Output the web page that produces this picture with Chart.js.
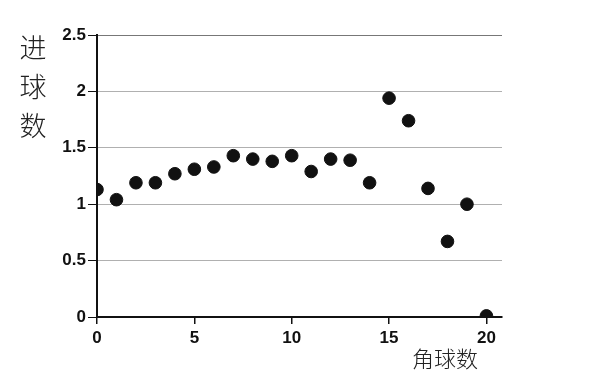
<!DOCTYPE html>
<html>
<head>
<meta charset="utf-8">
<script src="https://cdn.jsdelivr.net/npm/chart.js@4.4.1/dist/chart.umd.min.js"></script>
<style>
  html, body { margin: 0; padding: 0; background: #fff; }
  #wrap { position: relative; width: 607px; height: 385px; }
  #c { position: absolute; left: 0; top: 0; }
  .ylab { position: absolute; left: 17px; top: 27px; width: 32px; font: 300 27px "Noto Sans CJK SC"; line-height: 39px; color: #222; text-align: center; }
  .xlab { position: absolute; left: 412px; top: 341px; font: 300 22px "Noto Sans CJK SC"; color: #222; }
</style>
</head>
<body>
<div id="wrap">
  <canvas id="c" width="607" height="385"></canvas>
  <div class="ylab">进<br>球<br>数</div>
  <div class="xlab">角球数</div>
</div>
<script>
// 角球数 vs 进球数
const corners = [0, 1, 2, 3, 4, 5, 6, 7, 8, 9, 10, 11, 12, 13, 14, 15, 16, 17, 18, 19, 20];
const goals = [1.13, 1.04, 1.19, 1.19, 1.27, 1.31, 1.33, 1.43, 1.40, 1.38, 1.43, 1.29, 1.40, 1.39, 1.19, 1.94, 1.74, 1.14, 0.67, 1.00, 0.01];
const xTicks = [0, 5, 10, 15, 20];
const yTicks = [0, 0.5, 1, 1.5, 2, 2.5];

const puntos = corners.map((x, i) => ({ x: x, y: goals[i] }));
const fuente = { family: '"Liberation Sans", Arial, sans-serif', size: 17, weight: 'bold' };

new Chart(document.getElementById('c').getContext('2d'), {
    type: 'scatter',
    data: {
        datasets: [{
            data: puntos,
            backgroundColor: '#111',
            borderColor: '#111',
            pointRadius: 6.3,
            pointHoverRadius: 6.3
        }]
    },
    options: {
        responsive: false,
        animation: false,
        layout: { padding: { top: 35, right: 105, left: 0, bottom: 0 } },
        plugins: { legend: { display: false }, tooltip: { enabled: false } },
        scales: {
            x: {
                type: 'linear',
                min: 0,
                max: 20.8,
                afterBuildTicks: (scale) => { scale.ticks = xTicks.map(v => ({ value: v })); },
                afterFit: (scale) => { scale.height = 68; },
                border: { color: '#111', width: 2 },
                grid: { drawOnChartArea: false, drawTicks: true, tickLength: 7, color: '#111', lineWidth: 1.5 },
                ticks: { color: '#111', font: fuente, padding: 4, maxRotation: 0 }
            },
            y: {
                min: 0,
                max: 2.5,
                afterBuildTicks: (scale) => { scale.ticks = yTicks.map(v => ({ value: v })); },
                afterFit: (scale) => { scale.width = 97; },
                border: { color: '#111', width: 2 },
                grid: {
                    color: (ctx) => ctx.tick && ctx.tick.value === 2.5 ? '#777' : '#b0b0b0',
                    lineWidth: 1, tickColor: '#111', tickLength: 9, drawTicks: true
                },
                ticks: { color: '#111', font: fuente, padding: 2, callback: (v) => String(v) }
            }
        }
    }
});
</script>
</body>
</html>
